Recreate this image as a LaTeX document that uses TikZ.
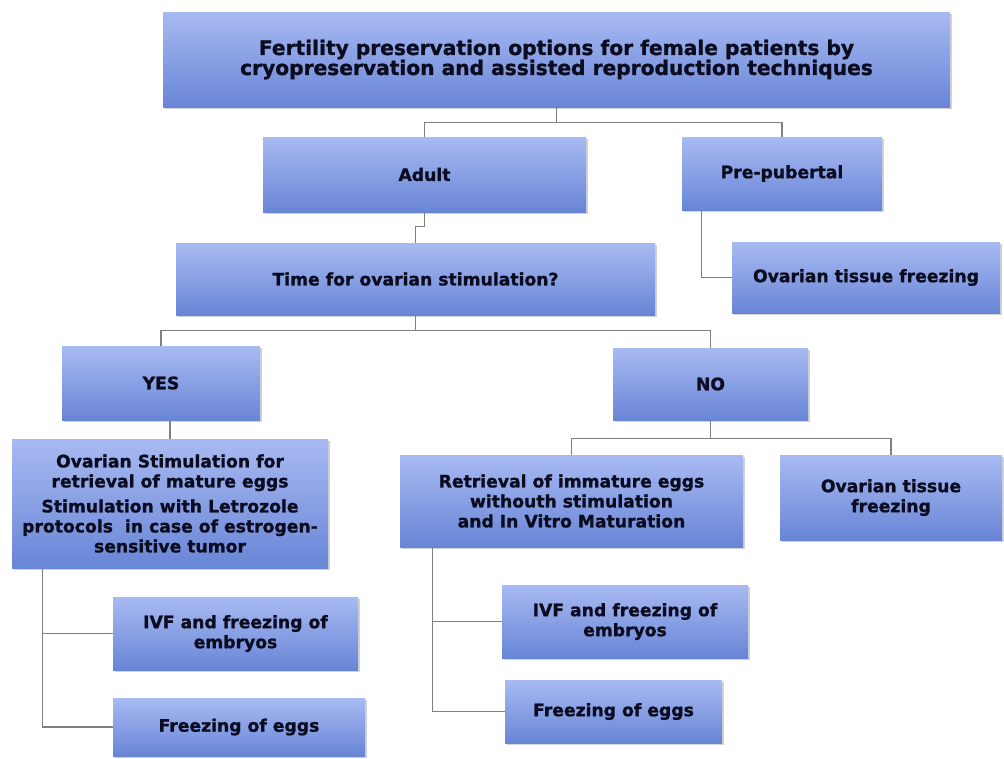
\documentclass[tikz,border=0pt]{standalone}
\usepackage{fontspec}
\newfontfamily\dvs[BoldFeatures={FakeBold=1.2}]{DejaVu Sans}
\usetikzlibrary{shadows,calc}
\definecolor{boxtop}{RGB}{168,186,242}
\definecolor{boxbot}{RGB}{104,133,214}
\definecolor{linegray}{RGB}{128,128,128}
\definecolor{txt}{RGB}{12,12,32}
\tikzset{
  box/.style={rectangle, inner sep=0pt, top color=boxtop, bottom color=boxbot,
    draw=none, align=center, text=txt,
    font=\dvs\bfseries\fontsize{17.2}{20}\selectfont,
    drop shadow={shadow xshift=1.5pt, shadow yshift=-2pt, opacity=0.35, fill=gray}},
  conn/.style={draw=linegray, line width=1.3pt}
}
\newcommand{\boxat}[6]{% name, x1, y1, x2, y2, text
  \node[box, minimum width={#4-#2}, minimum height={#5-#3}] (#1) at ({(#2+#4)/2},{(#3+#5)/2}) {#6};}
\begin{document}
\begin{tikzpicture}[x=1pt,y=-1pt]
\useasboundingbox (0,0) rectangle (1004,758);
\fill[white] (0,0) rectangle (1004,758);
\boxat{title}{163}{12}{950}{107}{\fontsize{20.2}{20.5}\selectfont Fertility preservation options for female patients by\\\fontsize{20.2}{20.5}\selectfont cryopreservation and assisted reproduction techniques}
\boxat{adult}{263}{137}{586}{212}{Adult}
\boxat{pre}{682}{137}{882}{210}{Pre-pubertal}
\boxat{time}{176}{243}{655}{315}{Time for ovarian stimulation?}
\boxat{ovta}{732}{242}{1000}{313}{Ovarian tissue freezing}
\boxat{yes}{62}{346}{260}{420}{YES}
\boxat{no}{613}{348}{808}{420}{NO}
\boxat{os}{12}{439}{328}{568}{Ovarian Stimulation for\\retrieval of mature eggs\\[5pt]Stimulation with Letrozole\\protocols\ \ in case of estrogen-\\sensitive tumor}
\boxat{ret}{400}{455}{743}{547}{Retrieval of immature eggs\\withouth stimulation\\and In Vitro Maturation}
\boxat{ovtb}{780}{455}{1002}{540}{Ovarian tissue\\freezing}
\boxat{ivfl}{113}{597}{358}{670}{IVF and freezing of\\embryos}
\boxat{frzl}{113}{698}{365}{756}{Freezing of eggs}
\boxat{ivfr}{502}{585}{748}{658}{IVF and freezing of\\embryos}
\boxat{frzr}{505}{680}{722}{743}{Freezing of eggs}
% connectors
\draw[conn] (title.south) -- ++(0,15) coordinate (j1);
\draw[conn] (j1) -| (adult.north);
\draw[conn] (j1) -| (pre.north);
\draw[conn] (adult.south) -- ++(0,14) -| (time.north);
\draw[conn] ($(pre.south west)+(20,0)$) |- (ovta.west);
\draw[conn] (time.south) -- ++(0,15) coordinate (j2);
\draw[conn] (j2) -| (yes.north);
\draw[conn] (j2) -| (no.north);
\draw[conn] (yes.south -| os.north) -- (os.north);
\draw[conn] (no.south) -- ++(0,18) coordinate (j3);
\draw[conn] (j3) -| (ret.north);
\draw[conn] (j3) -| (ovtb.north);
\draw[conn] ($(os.south west)+(31,0)$) coordinate (j4) |- (ivfl.west);
\draw[conn] (j4) |- (frzl.west);
\draw[conn] ($(ret.south west)+(33,0)$) coordinate (j5) |- (ivfr.west);
\draw[conn] (j5) |- (frzr.west);
\end{tikzpicture}
\end{document}
